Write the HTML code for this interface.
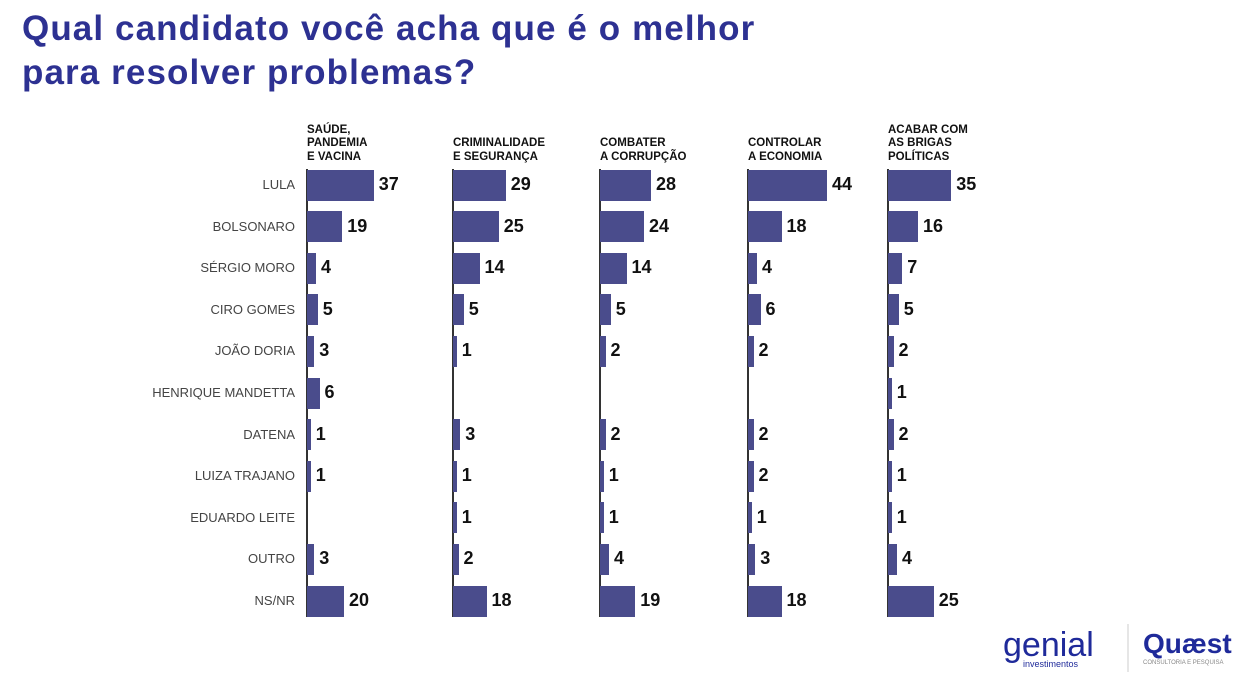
<!DOCTYPE html>
<html><head><meta charset="utf-8"><style>
body{margin:0;width:1247px;height:681px;background:#fff;overflow:hidden;font-family:"Liberation Sans",sans-serif;position:relative}
.title{position:absolute;left:22px;top:7px;font-size:35px;font-weight:bold;color:#2d3192;line-height:44px;letter-spacing:1.1px}
.lab{position:absolute;right:952px;font-size:13px;color:#444;text-align:right;white-space:nowrap}
.hdr{position:absolute;font-size:11.5px;font-weight:bold;color:#111;line-height:13.5px}
.val{position:absolute;font-size:18px;font-weight:bold;color:#111}
.bar{position:absolute;background:#4a4c8c}
.axis{position:absolute;width:1.5px;background:#333}
</style></head><body>
<div class="title">Qual candidato você acha que é o melhor<br>para resolver problemas?</div>
<div id="chart"></div>
<svg style="position:absolute;left:995px;top:620px" width="250" height="55">
<text x="8" y="36" font-size="34" font-family="Liberation Sans" fill="#1f2a9a">genial</text>
<text x="28" y="47" font-size="9" font-family="Liberation Sans" fill="#1f2a9a">investimentos</text>
<line x1="133" y1="4" x2="133" y2="52" stroke="#ccc"/>
<text x="148" y="33" font-size="28" font-weight="bold" font-family="Liberation Sans" fill="#1f2a9a">Quæst</text>
<text x="148" y="44" font-size="6" font-family="Liberation Sans" fill="#888">CONSULTORIA E PESQUISA</text>
</svg>
<script>
const candidates=["LULA","BOLSONARO","SÉRGIO MORO","CIRO GOMES","JOÃO DORIA","HENRIQUE MANDETTA","DATENA","LUIZA TRAJANO","EDUARDO LEITE","OUTRO","NS/NR"];
const topics=[["SAÚDE,","PANDEMIA","E VACINA"],["CRIMINALIDADE","E SEGURANÇA"],["COMBATER","A CORRUPÇÃO"],["CONTROLAR","A ECONOMIA"],["ACABAR COM","AS BRIGAS","POLÍTICAS"]];
const saude=[37,19,4,5,3,6,1,1,null,3,20];
const crime=[29,25,14,5,1,null,3,1,1,2,18];
const corrupcao=[28,24,14,5,2,null,2,1,1,4,19];
const economia=[44,18,4,6,2,null,2,2,1,3,18];
const brigas=[35,16,7,5,2,1,2,1,1,4,25];
const series=[saude,crime,corrupcao,economia,brigas];
const colX=[307,453,600,748,888];
const c=document.getElementById('chart');
const yC=i=>185+i*41.6;
const xW=v=>2+v*1.75;
candidates.forEach((n,i)=>{
 const d=document.createElement('div');d.className='lab';d.textContent=n;
 d.style.top=(yC(i)-8)+'px';
 
 
 c.appendChild(d);
});
series.forEach((s,j)=>{
 const x=colX[j];
 const a=document.createElement('div');a.className='axis';
 a.style.left=(x-1)+'px';a.style.top='169px';a.style.height='448px';
 
 
 c.appendChild(a);
 const h=document.createElement('div');h.className='hdr';
 h.innerHTML=topics[j].join('<br>');
 h.style.left=x+'px';h.style.top=(164-topics[j].length*13.5)+'px';
 
 
 c.appendChild(h);
 s.forEach((v,i)=>{
  if(v===null)return;
  const b=document.createElement('div');b.className='bar';
  const w=xW(v);
  b.style.left=x+'px';b.style.top=(yC(i)-15.5)+'px';b.style.width=w+'px';b.style.height='31px';
  
  
  c.appendChild(b);
  const t=document.createElement('div');t.className='val';t.textContent=v;
  t.style.left=(x+w+5)+'px';t.style.top=(yC(i)-11)+'px';
  
  
  c.appendChild(t);
 });
});
</script>
</body></html>
